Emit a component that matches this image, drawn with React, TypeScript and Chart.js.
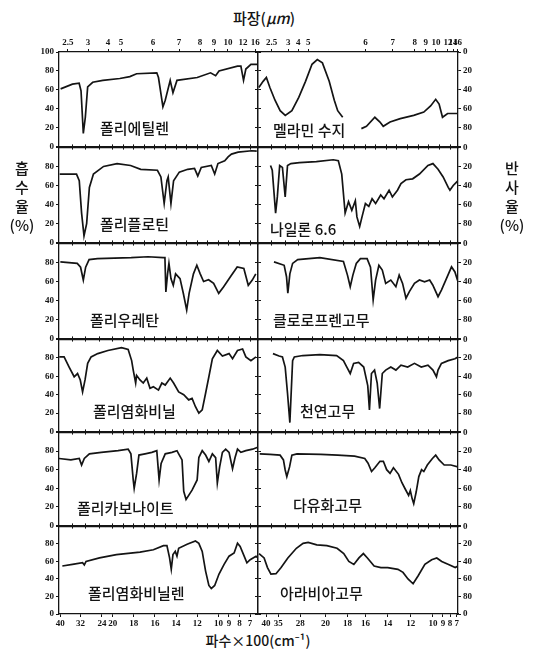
import React, { useEffect, useRef } from 'react';
import { Chart, LinearScale, registerables } from 'chart.js';

// ---------------- data (wavenumber cm^-1, absorption scale 0-100) ----------------
const peWn = [3940, 3500, 3250, 3180, 3095, 3020, 2933, 2745, 2368, 1933, 1838, 1774, 1583, 1567, 1525, 1503, 1456, 1430, 1392, 1200, 1074, 1026, 994, 819, 787, 762, 740, 692, 628];
const peAbs = [61, 66, 67, 59, 14, 31, 63, 68, 70, 72, 74, 77, 78, 73, 42, 49, 70, 57, 70, 73, 78, 75, 80, 85, 85, 70, 82, 87, 87];

const melWn = [3970, 3810, 3690, 3560, 3370, 3180, 2990, 2745, 2490, 2240, 2000, 1950, 1902, 1838, 1790, 1758, 1711, 1620, 1535, 1487, 1408, 1360, 1329, 1265, 1169, 1042, 947, 883, 835, 803, 771, 723, 625];
const melAbs = [62.5, 69, 73, 62.5, 49, 38, 33, 38, 52, 69, 87, 92, 88.5, 69, 49, 38, 31, null, 19, 21.5, 31, 26, 21.5, 26, 29.5, 33, 36.5, 43, 50, 45, 31, 35, 35];

const ppWn = [3975, 3348, 3246, 3159, 3069, 2971, 2869, 2718, 2341, 1959, 1831, 1735, 1577, 1544, 1513, 1487, 1475, 1449, 1424, 1370, 1290, 1226, 1195, 1162, 1067, 1035, 1004, 940, 908, 876, 813, 685, 637];
const ppAbs = [72, 72, 65, 31, 7, 20, 58, 72, 80, 83, 81, 77, 76, 69, 41, 65, 69, 41, 65, 74, 77, 78, 70, 79, 81, 72, 83, 86, 90, 93, 95, 96.5, 96];

const nylonWn = [3536, 3472, 3348, 3284, 3197, 3095, 2993, 2907, 2782, 2466, 1959, 1800, 1752, 1720, 1688, 1656, 1625, 1592, 1577, 1551, 1529, 1497, 1465, 1434, 1401, 1353, 1322, 1274, 1243, 1195, 1162, 1115, 1052, 988, 908, 861, 813, 765, 717, 701, 670, 625];
const nylonAbs = [81, 76, 31, 48, 81, 79, 48, 81, 83, 84, 85, 87, 86, 72, 31, 43, 34, 44, 27, 17, 27, 41, 38, 46, 41, 50, 46, 55, 48, 55, 62, 66, 67, 72, 81, 83, 77, 69, 58, 55, 60, 65];

const puWn = [3950, 3321, 3197, 3095, 3008, 2880, 2567, 1825, 1666, 1523, 1506, 1497, 1481, 1468, 1449, 1427, 1405, 1363, 1332, 1300, 1277, 1236, 1204, 1172, 1140, 1093, 1045, 997, 950, 886, 822, 759, 717, 679, 646];
const puAbs = [80.5, 79, 75, 61.5, 75, 83, 84, 85, 86, 85, 85, 49, 68, 79, 63, 56, 68, 63, 47.6, 30, 47.6, 68, 77, 68, 60, 61.8, 58, 47.6, 54.5, 65, 75.3, 73.6, 56, 61.5, 68];

const crWn = [3408, 3031, 2944, 2895, 2820, 2718, 2530, 1926, 1704, 1666, 1640, 1615, 1583, 1544, 1481, 1449, 1424, 1401, 1370, 1338, 1306, 1258, 1210, 1179, 1147, 1115, 1083, 1035, 988, 940, 892, 863, 813, 781, 733, 686, 654, 625];
const crAbs = [80.6, 77, 65, 47.6, 68, 79, 83, 85, 81, 66.7, 54.5, 66.7, 79, 84, 84, 75, 40.6, 61.5, 77, 72, 58, 61.5, 54.5, 66.7, 58, 42.4, 49.3, 58, 61.5, 59.7, 61.5, 56.3, 44, 51, 63.2, 75.4, 70, 59.7];

const pvcWn = [3990, 3810, 3623, 3435, 3310, 3208, 3122, 3031, 2933, 2805, 2556, 2179, 1917, 1854, 1821, 1806, 1783, 1774, 1742, 1711, 1678, 1647, 1615, 1567, 1535, 1503, 1456, 1424, 1376, 1328, 1281, 1249, 1217, 1185, 1153, 1121, 1090, 1057, 1010, 962, 899, 866, 819, 771, 740, 692, 644];
const pvcAbs = [81, 81, 70, 59.5, 63, 56, 43, 56, 74, 81, 84.6, 88, 91, 89, 77, 66.7, 52.7, 61, 56, 52.7, 58, 47, 48.7, 45, 52.7, 50.5, 58, 52.7, 43, 40, 34.4, 36, 27, 20, 23.6, 41.6, 59.5, 79, 88, 82, 84.6, 79, 88, 89.6, 81, 77, 81];

const nrWn = [3446, 3220, 3095, 2993, 2907, 2820, 2718, 2654, 2341, 1926, 1768, 1704, 1672, 1640, 1608, 1561, 1513, 1475, 1459, 1440, 1411, 1386, 1363, 1338, 1306, 1258, 1210, 1162, 1099, 1035, 971, 908, 861, 828, 813, 781, 717, 654, 625];
const nrAbs = [84.6, 82, 81, 70, 41.6, 9.7, 77, 81, 82.5, 83.5, 82.5, 77, 70, 63, 74, 75, 70, 50, 23.6, 63, 66.7, 52.7, 25, 63, 66.7, 70, 66.7, 72, 70, 74, 70, 72, 66.7, 59.5, 66.7, 74, 77, 79, 81];

const pcWn = [4000, 3559, 3246, 3159, 3058, 2869, 2428, 1949, 1854, 1828, 1806, 1797, 1774, 1752, 1694, 1630, 1583, 1561, 1542, 1503, 1439, 1392, 1376, 1344, 1328, 1306, 1249, 1201, 1185, 1153, 1121, 1090, 1057, 1026, 1010, 988, 962, 931, 899, 866, 842, 819, 787, 740, 676, 628];
const pcAbs = [72, 70.5, 72, 65, 72, 77, 78.6, 80.4, 82, 77, 49, 40, 56, 75.7, 77, 78.6, 80.4, 49, 66.7, 77, 78.6, 80.4, 77, 70.5, 36.8, 28, 38, 49, 73, 80.4, 75.7, 68.8, 77, 73, 45.6, 63, 78.6, 82, 78.6, 61, 73, 82, 78.6, 80.4, 82, 84];

const psWn = [3936, 3559, 3182, 3058, 2993, 2933, 2831, 2745, 2556, 1917, 1758, 1599, 1503, 1472, 1439, 1408, 1360, 1328, 1297, 1265, 1233, 1185, 1153, 1121, 1090, 1074, 1057, 1042, 1019, 994, 968, 947, 914, 866, 835, 803, 755, 692, 625];
const psAbs = [77, 76.5, 75.6, 70.5, 59.7, 52.6, 63, 75.6, 77, 76.5, 75.6, 74.6, 72, 67, 58, 62, 69, 69, 60, 56, 62, 55, 46, 39, 32.5, 37.6, 29, 23.5, 36, 52.6, 60, 58, 65, 72, 75.6, 70.5, 65, 65, 63];

const pvdcWn = [3876, 3499, 3122, 3058, 2993, 2492, 1965, 1742, 1615, 1520, 1487, 1462, 1446, 1430, 1408, 1392, 1376, 1296, 1217, 1185, 1153, 1121, 1090, 1067, 1035, 994, 946, 899, 851, 819, 794, 756, 730, 699, 644, 625];
const pvdcAbs = [54.8, 56.6, 58.5, 56, 60, 64, 67.8, 70.7, 73.3, 78, 78, 64, 51, 67.8, 71.5, 66, 75, 79.6, 83.3, 80.7, 71.5, 49, 32.6, 29, 32.6, 45.6, 56.6, 66, 69.6, 80.7, 77, 66, 58.5, 62, 66, 64];

const gumWn = [3962, 3774, 3649, 3521, 3333, 3144, 2895, 2579, 2330, 2141, 1955, 1860, 1764, 1701, 1653, 1606, 1558, 1516, 1478, 1415, 1351, 1287, 1191, 1143, 1096, 1048, 1000, 937, 873, 825, 778, 714, 651, 625];
const gumAbs = [69, 64, 53, 45.6, 46, 53, 64, 75, 80.7, 81.8, 79, 78, 75, 69, 60, 56.6, 64, 69, 64, 54.8, 53, 53, 51, 47.5, 40, 34.5, 43.7, 56.6, 62, 64, 60, 56.6, 53, 54.8];

// ---------------- tick labels (placed where the printed scale shows them) ----------------
const topTicksLeft = [3665, 2920, 2176, 1921, 1619, 1372, 1173, 1041, 909, 767, 650];
const topLabelsLeft = ['2.5', '3', '4', '5', '6', '7', '8', '9', '10', '12', '16'];
const topTicksRight = [3500, 2883, 2511, 2139, 1496, 1240, 1032, 928, 833, 720, 672, 630];
const topLabelsRight = ['2.5', '3', '4', '5', '6', '7', '8', '9', '10', '12', '14', '16'];
const bottomTicksLeft = [3950, 3200, 2400, 2000, 1800, 1600, 1400, 1200, 1000, 900, 800, 700];
const bottomLabelsLeft = ['40', '32', '24', '20', '18', '16', '14', '12', '10', '9', '8', '7'];
const bottomTicksRight = [3700, 3250, 2437, 1874, 1666, 1496, 1287, 1070, 861, 767, 700, 636];
const bottomLabelsRight = ['40', '35', '28', '20', '18', '16', '14', '12', '10', '9', '8', '7'];
const minorTicks = [3500, 3000, 2500, 2000, 1900, 1800, 1700, 1600, 1500, 1400, 1300, 1200, 1100, 1000, 900, 800, 700];

const panelNames = [
  ['폴리에틸렌', '멜라민 수지'],
  ['폴리플로틴', '나일론 6.6'],
  ['폴리우레탄', '클로로프렌고무'],
  ['폴리염화비닐', '천연고무'],
  ['폴리카보나이트', '다유화고무'],
  ['폴리염화비닐렌', '아라비아고무'],
];
const panelSeries = [
  [[peWn, peAbs], [melWn, melAbs]],
  [[ppWn, ppAbs], [nylonWn, nylonAbs]],
  [[puWn, puAbs], [crWn, crAbs]],
  [[pvcWn, pvcAbs], [nrWn, nrAbs]],
  [[pcWn, pcAbs], [psWn, psAbs]],
  [[pvdcWn, pvdcAbs], [gumWn, gumAbs]],
];

// ---------------- layout ----------------
const COL_X = [59, 258, 458];
const ROW_Y = [52, 147, 243, 339, 432, 526, 614];
const LABEL_POS = [
  [[100, 128], [273, 130]],
  [[100, 224], [270, 229]],
  [[90, 320], [273, 320]],
  [[93, 411], [300, 411]],
  [[77, 508], [293, 505]],
  [[88, 593], [280, 593]],
];
const INK = '#141414';
const TICK_FONT = { family: "'Liberation Serif', 'DejaVu Serif', serif", size: 9, weight: 'bold' as const };
const KFONT = "'Noto Sans CJK KR', 'Noto Sans', sans-serif";

// ---------------- wavenumber scale with 2000 cm^-1 break ----------------
const WN_HIGH = 4000;
const WN_BREAK = 2000;
const WN_LOW = 625;
const BREAK_FRACTION = 0.27;

function wnToDecimal(v: number): number {
  if (v >= WN_BREAK) return ((WN_HIGH - v) / (WN_HIGH - WN_BREAK)) * BREAK_FRACTION;
  return BREAK_FRACTION + ((WN_BREAK - v) / (WN_BREAK - WN_LOW)) * (1 - BREAK_FRACTION);
}
function decimalToWn(d: number): number {
  if (d <= BREAK_FRACTION) return WN_HIGH - (d / BREAK_FRACTION) * (WN_HIGH - WN_BREAK);
  return WN_BREAK - ((d - BREAK_FRACTION) / (1 - BREAK_FRACTION)) * (WN_BREAK - WN_LOW);
}

class WavenumberScale extends LinearScale {
  static id = 'wavenumber';
  static defaults = { ...(LinearScale as any).defaults };
  getPixelForValue(value: any) {
    if (value === null || value === undefined || Number.isNaN(value)) return NaN;
    return this.getPixelForDecimal(wnToDecimal(value));
  }
  getValueForPixel(pixel: number) {
    return decimalToWn(this.getDecimalForPixel(pixel));
  }
}

Chart.register(...registerables, WavenumberScale as any);

function xAxis(position: 'top' | 'bottom', values: number[], labels: string[] | null, size: number) {
  return {
    type: 'wavenumber',
    axis: 'x',
    position,
    min: WN_LOW,
    max: WN_HIGH,
    bounds: 'data',
    afterBuildTicks: (s: any) => {
      s.ticks = values.map((v) => ({ value: v }));
    },
    afterFit: (s: any) => {
      s.height = size;
    },
    ticks: {
      autoSkip: false,
      maxRotation: 0,
      minRotation: 0,
      padding: 1,
      color: INK,
      font: TICK_FONT,
      callback: (_v: any, i: number) => (labels ? labels[i] : ''),
    },
    grid: { display: true, drawOnChartArea: false, drawTicks: true, tickLength: 3, color: INK, lineWidth: 1 },
    border: { display: true, color: INK, width: 1.3 },
  };
}

function yAxis(position: 'left' | 'right', size: number, label: (v: number) => string) {
  return {
    type: 'linear',
    axis: 'y',
    position,
    min: 0,
    max: 100,
    afterFit: (s: any) => {
      s.width = size;
    },
    ticks: { stepSize: 20, autoSkip: false, padding: 2, color: INK, font: TICK_FONT, callback: (v: any) => label(Number(v)) },
    grid: { display: true, drawOnChartArea: false, drawTicks: true, tickLength: 3, color: INK, lineWidth: 1 },
    border: { display: true, color: INK, width: 1.3 },
  };
}

function Panel({ row, col }: { row: number; col: number }) {
  const ref = useRef<HTMLCanvasElement | null>(null);
  const padL = col === 0 ? 34 : 6;
  const padR = col === 0 ? 6 : 30;
  const padT = row === 0 ? 16 : 7;
  const padB = row === 5 ? 16 : 7;
  const x0 = COL_X[col];
  const x1 = COL_X[col + 1];
  const y0 = ROW_Y[row];
  const y1 = ROW_Y[row + 1];
  const width = x1 - x0 + padL + padR;
  const height = y1 - y0 + padT + padB;

  useEffect(() => {
    const canvas = ref.current;
    if (!canvas) return;
    const [wn, abs] = panelSeries[row][col] as [number[], (number | null)[]];
    const points = wn.map((x, i) => ({ x, y: abs[i] }));
    const topVals = row === 0 ? (col === 0 ? topTicksLeft : topTicksRight) : minorTicks;
    const topLabels = row === 0 ? (col === 0 ? topLabelsLeft : topLabelsRight) : null;
    const botVals = row === 5 ? (col === 0 ? bottomTicksLeft : bottomTicksRight) : minorTicks;
    const botLabels = row === 5 ? (col === 0 ? bottomLabelsLeft : bottomLabelsRight) : null;

    const leftLabel = (v: number) => {
      if (col !== 0) return '';
      if (v === 100 && row !== 0) return '';
      return String(v);
    };
    const rightLabel = (v: number) => {
      if (col !== 1) return '';
      if (v === 0) return row === 5 ? '0' : '';
      return String(100 - v);
    };

    const chart = new Chart(canvas, {
      type: 'line',
      data: {
        datasets: [
          {
            data: points as any,
            borderColor: INK,
            borderWidth: 1.7,
            pointRadius: 0,
            tension: 0,
            fill: false,
            spanGaps: false,
            xAxisID: 'xb',
            yAxisID: 'y',
          },
        ],
      },
      options: {
        animation: false,
        responsive: false,
        events: [],
        layout: { padding: 0 },
        plugins: { legend: { display: false }, tooltip: { enabled: false }, title: { display: false } },
        scales: {
          xb: xAxis('bottom', botVals, botLabels, padB),
          xt: xAxis('top', topVals, topLabels, padT),
          y: yAxis('left', padL, leftLabel),
          yr: yAxis('right', padR, rightLabel),
        } as any,
      },
    });
    return () => chart.destroy();
  }, [row, col]);

  return (
    <canvas
      ref={ref}
      width={width}
      height={height}
      style={{ position: 'absolute', left: x0 - padL, top: y0 - padT, width, height }}
    />
  );
}

const labelStyle: React.CSSProperties = {
  position: 'absolute',
  fontFamily: KFONT,
  fontSize: 15,
  fontWeight: 500,
  lineHeight: '20px',
  color: INK,
  whiteSpace: 'nowrap',
};

export default function App() {
  const panels: React.ReactNode[] = [];
  const names: React.ReactNode[] = [];
  for (let r = 0; r < 6; r++) {
    for (let c = 0; c < 2; c++) {
      panels.push(<Panel key={`p${r}${c}`} row={r} col={c} />);
      const [lx, ly] = LABEL_POS[r][c];
      names.push(
        <div key={`n${r}${c}`} style={{ ...labelStyle, left: lx, top: ly - 10 }}>
          {panelNames[r][c]}
        </div>
      );
    }
  }
  return (
    <div style={{ position: 'absolute', left: 0, top: 0, width: 551, height: 653, background: '#fff', overflow: 'hidden' }}>
      <div style={{ ...labelStyle, left: 0, width: 528, textAlign: 'center', top: 8 }}>
        파장(<i>μm</i>)
      </div>
      {panels}
      {names}
      <div style={{ ...labelStyle, left: 4, width: 36, textAlign: 'center', top: 158, lineHeight: '19px' }}>
        흡<br />수<br />율<br />(%)
      </div>
      <div style={{ ...labelStyle, left: 494, width: 36, textAlign: 'center', top: 158, lineHeight: '19px' }}>
        반<br />사<br />율<br />(%)
      </div>
      <div style={{ ...labelStyle, left: 0, width: 516, textAlign: 'center', top: 630, fontSize: 14 }}>
        파수×100(cm⁻¹)
      </div>
    </div>
  );
}
